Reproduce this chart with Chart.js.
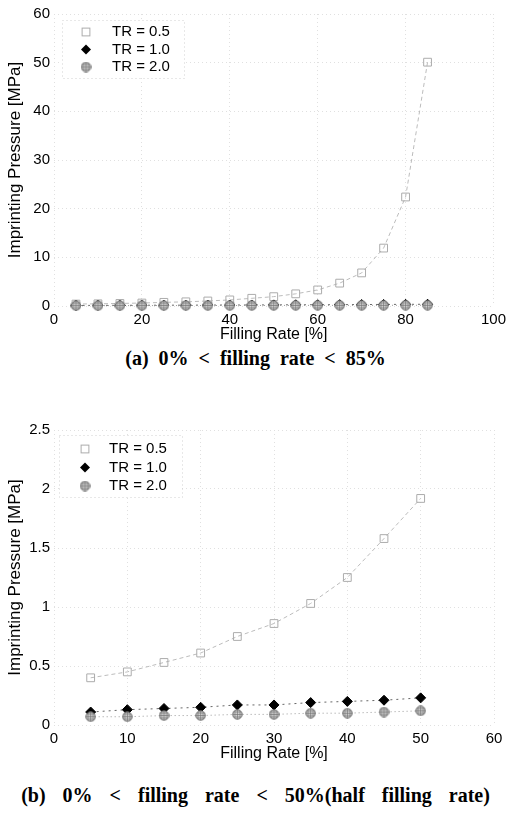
<!DOCTYPE html>
<html><head><meta charset="utf-8">
<script src="https://cdn.jsdelivr.net/npm/chart.js@4.4.0/dist/chart.umd.min.js"></script>
<style>
html,body{margin:0;padding:0;background:#fff;}
#wrap{position:relative;width:511px;height:817px;overflow:hidden;background:#fff;}
.cv{position:absolute;left:0;}
.cap{position:absolute;left:0;width:511px;text-align:center;font-family:"Liberation Serif","Times New Roman",serif;font-weight:bold;font-size:20px;line-height:22px;white-space:nowrap;color:#000;}
</style></head><body>
<div id="wrap">
<div class="cv" style="top:0;width:511px;height:345px"><canvas id="ca" width="511" height="345"></canvas></div>
<div class="cap" id="capA" style="top:347px;word-spacing:5px">(a) 0% &lt; filling rate &lt; 85%</div>
<div class="cv" style="top:405px;width:511px;height:365px"><canvas id="cb" width="511" height="365"></canvas></div>
<div class="cap" id="capB" style="top:784px;word-spacing:12px">(b) 0% &lt; filling rate &lt; 50%(half filling rate)</div>
</div>
<script>
// ---- data ----
const seriesLabels = ['TR = 0.5', 'TR = 1.0', 'TR = 2.0'];

const fillingRateA = [5,10,15,20,25,30,35,40,45,50,55,60,65,70,75,80,85];
const pressureA_TR05 = [0.40,0.45,0.53,0.61,0.75,0.86,1.03,1.25,1.58,1.92,2.5,3.3,4.7,6.8,11.9,22.4,50.1];
const pressureA_TR10 = [0.11,0.13,0.14,0.15,0.17,0.17,0.19,0.20,0.21,0.23,0.25,0.26,0.28,0.30,0.32,0.34,0.36];
const pressureA_TR20 = [0.07,0.07,0.08,0.08,0.09,0.09,0.10,0.10,0.11,0.12,0.12,0.13,0.13,0.14,0.14,0.15,0.15];
const xTicksA = [0,20,40,60,80,100];
const yTicksA = [0,10,20,30,40,50,60];

const fillingRateB = [5,10,15,20,25,30,35,40,45,50];
const pressureB_TR05 = [0.40,0.45,0.53,0.61,0.75,0.86,1.03,1.25,1.58,1.92];
const pressureB_TR10 = [0.11,0.13,0.14,0.15,0.17,0.17,0.19,0.20,0.21,0.23];
const pressureB_TR20 = [0.07,0.07,0.08,0.08,0.09,0.09,0.10,0.10,0.11,0.12];
const xTicksB = [0,10,20,30,40,50,60];
const yTicksB = [0,0.5,1,1.5,2,2.5];

// ---- styles ----
function makeHatch(){
  const c = document.createElement('canvas'); c.width = 11; c.height = 11;
  const g = c.getContext('2d');
  g.beginPath(); g.arc(5.5,5.5,4.7,0,Math.PI*2); g.fillStyle = '#d6d6d6'; g.fill();
  g.save(); g.clip(); g.strokeStyle = '#707070'; g.lineWidth = 0.7;
  for (const p of [3,5.5,8]) {
    g.beginPath(); g.moveTo(p,0); g.lineTo(p,11); g.stroke();
    g.beginPath(); g.moveTo(0,p); g.lineTo(11,p); g.stroke();
  }
  g.restore();
  g.beginPath(); g.arc(5.5,5.5,4.7,0,Math.PI*2); g.strokeStyle = '#666'; g.lineWidth = 1; g.stroke();
  return c;
}
const hatchImg = makeHatch();
const FONT = '"Liberation Sans", Arial, Helvetica, sans-serif';

function toXY(xs, ys){ return xs.map((x,i)=>({x:x, y:ys[i]})); }

function makeDatasets(xs, y05, y10, y20){
  return [
    { label: seriesLabels[0], data: toXY(xs,y05), order: 2,
      borderColor: '#bcbcbc', borderWidth: 1, borderDash: [4,3],
      pointStyle: 'rect', pointRadius: 5.5, pointBackgroundColor: 'rgba(255,255,255,0)',
      pointBorderColor: '#acacac', pointBorderWidth: 1, tension: 0 },
    { label: seriesLabels[1], data: toXY(xs,y10), order: 1,
      borderColor: '#666', borderWidth: 1, borderDash: [2,4],
      pointStyle: 'rectRot', pointRadius: 5, pointBackgroundColor: '#000',
      pointBorderColor: '#000', pointBorderWidth: 1, tension: 0 },
    { label: seriesLabels[2], data: toXY(xs,y20), order: 0,
      borderColor: '#999', borderWidth: 1, borderDash: [1,3],
      pointStyle: hatchImg, pointRadius: 5, tension: 0 }
  ];
}

function drawMarker(ctx, ds, x, y){
  ctx.save();
  ctx.setLineDash([]);
  const r = ds.pointRadius;
  if (ds.pointStyle === 'rect') {
    const s = r * Math.SQRT1_2;
    ctx.strokeStyle = ds.pointBorderColor; ctx.lineWidth = 1;
    ctx.strokeRect(x - s, y - s, 2*s, 2*s);
  } else if (ds.pointStyle === 'rectRot') {
    ctx.beginPath(); ctx.moveTo(x, y-r); ctx.lineTo(x+r, y); ctx.lineTo(x, y+r); ctx.lineTo(x-r, y); ctx.closePath();
    ctx.fillStyle = ds.pointBackgroundColor; ctx.fill();
  } else {
    ctx.drawImage(ds.pointStyle, x - ds.pointStyle.width/2, y - ds.pointStyle.height/2);
  }
  ctx.restore();
}

const insideLegend = {
  id: 'insideLegend',
  afterDatasetsDraw(chart, args, o){
    const {ctx, chartArea: a} = chart;
    ctx.save();
    ctx.fillStyle = '#fff';
    ctx.fillRect(a.left + o.boxX, a.top + o.boxY, o.boxW, o.boxH);
    ctx.setLineDash([1,3]); ctx.strokeStyle = '#d0d0d0'; ctx.lineWidth = 1;
    ctx.strokeRect(a.left + o.boxX + 0.5, a.top + o.boxY + 0.5, o.boxW, o.boxH);
    ctx.setLineDash([]);
    chart.data.datasets.forEach((ds, i) => {
      const y = a.top + o.firstY + i * o.rowH;
      drawMarker(ctx, ds, a.left + o.markX, y);
      ctx.fillStyle = '#000'; ctx.font = '15px ' + FONT;
      ctx.textBaseline = 'middle'; ctx.textAlign = 'left';
      ctx.fillText(ds.label, a.left + o.textX, y);
    });
    ctx.restore();
  }
};

function makeChart(id, datasets, xT, yT, cfg){
  return new Chart(document.getElementById(id), {
    type: 'line',
    data: { datasets: datasets },
    plugins: [insideLegend],
    options: {
      responsive: false, animation: false, devicePixelRatio: 1,
      layout: { padding: { left: 0, right: 17, top: cfg.padTop, bottom: cfg.padBottom } },
      elements: { line: { fill: false } },
      datasets: { line: { clip: false } },
      plugins: { legend: { display: false }, tooltip: { enabled: false }, insideLegend: cfg.legend },
      scales: {
        x: {
          type: 'linear', min: xT[0], max: xT[xT.length-1],
          afterBuildTicks: s => { s.ticks = xT.map(v => ({value: v})); },
          afterFit: s => { s.height = cfg.xHeight; },
          grid: { color: '#e0e0e0', drawTicks: false, lineWidth: 1 },
          border: { display: false, dash: [1,3] },
          ticks: { color: '#000', font: { family: FONT, size: 15 }, padding: 5, maxRotation: 0,
                   callback: v => String(v) },
          title: { display: true, text: 'Filling Rate [%]', color: '#000',
                   font: { family: FONT, size: 16 }, padding: { top: 0, bottom: cfg.xTitlePad } }
        },
        y: {
          type: 'linear', min: yT[0], max: yT[yT.length-1],
          afterBuildTicks: s => { s.ticks = yT.map(v => ({value: v})); },
          afterFit: s => { s.width = 54; },
          grid: { color: '#e0e0e0', drawTicks: false, lineWidth: 1 },
          border: { display: false, dash: [1,3] },
          ticks: { color: '#000', font: { family: FONT, size: 15 }, padding: 4,
                   callback: v => String(v) },
          title: { display: true, text: 'Imprinting Pressure [MPa]', color: '#000',
                   font: { family: FONT, size: 17 }, padding: { top: 5, bottom: 0 } }
        }
      }
    }
  });
}

makeChart('ca', makeDatasets(fillingRateA, pressureA_TR05, pressureA_TR10, pressureA_TR20), xTicksA, yTicksA, {
  padTop: 14, padBottom: 1, xHeight: 38, xTitlePad: 0,
  legend: { boxX: 8, boxY: 6, boxW: 122, boxH: 58, markX: 32, textX: 58, firstY: 18, rowH: 17.5 }
});
makeChart('cb', makeDatasets(fillingRateB, pressureB_TR05, pressureB_TR10, pressureB_TR20), xTicksB, yTicksB, {
  padTop: 25, padBottom: 7, xHeight: 38, xTitlePad: 0,
  legend: { boxX: 5, boxY: 5, boxW: 123, boxH: 62, markX: 31, textX: 55, firstY: 19, rowH: 18.5 }
});
</script>
</body></html>
